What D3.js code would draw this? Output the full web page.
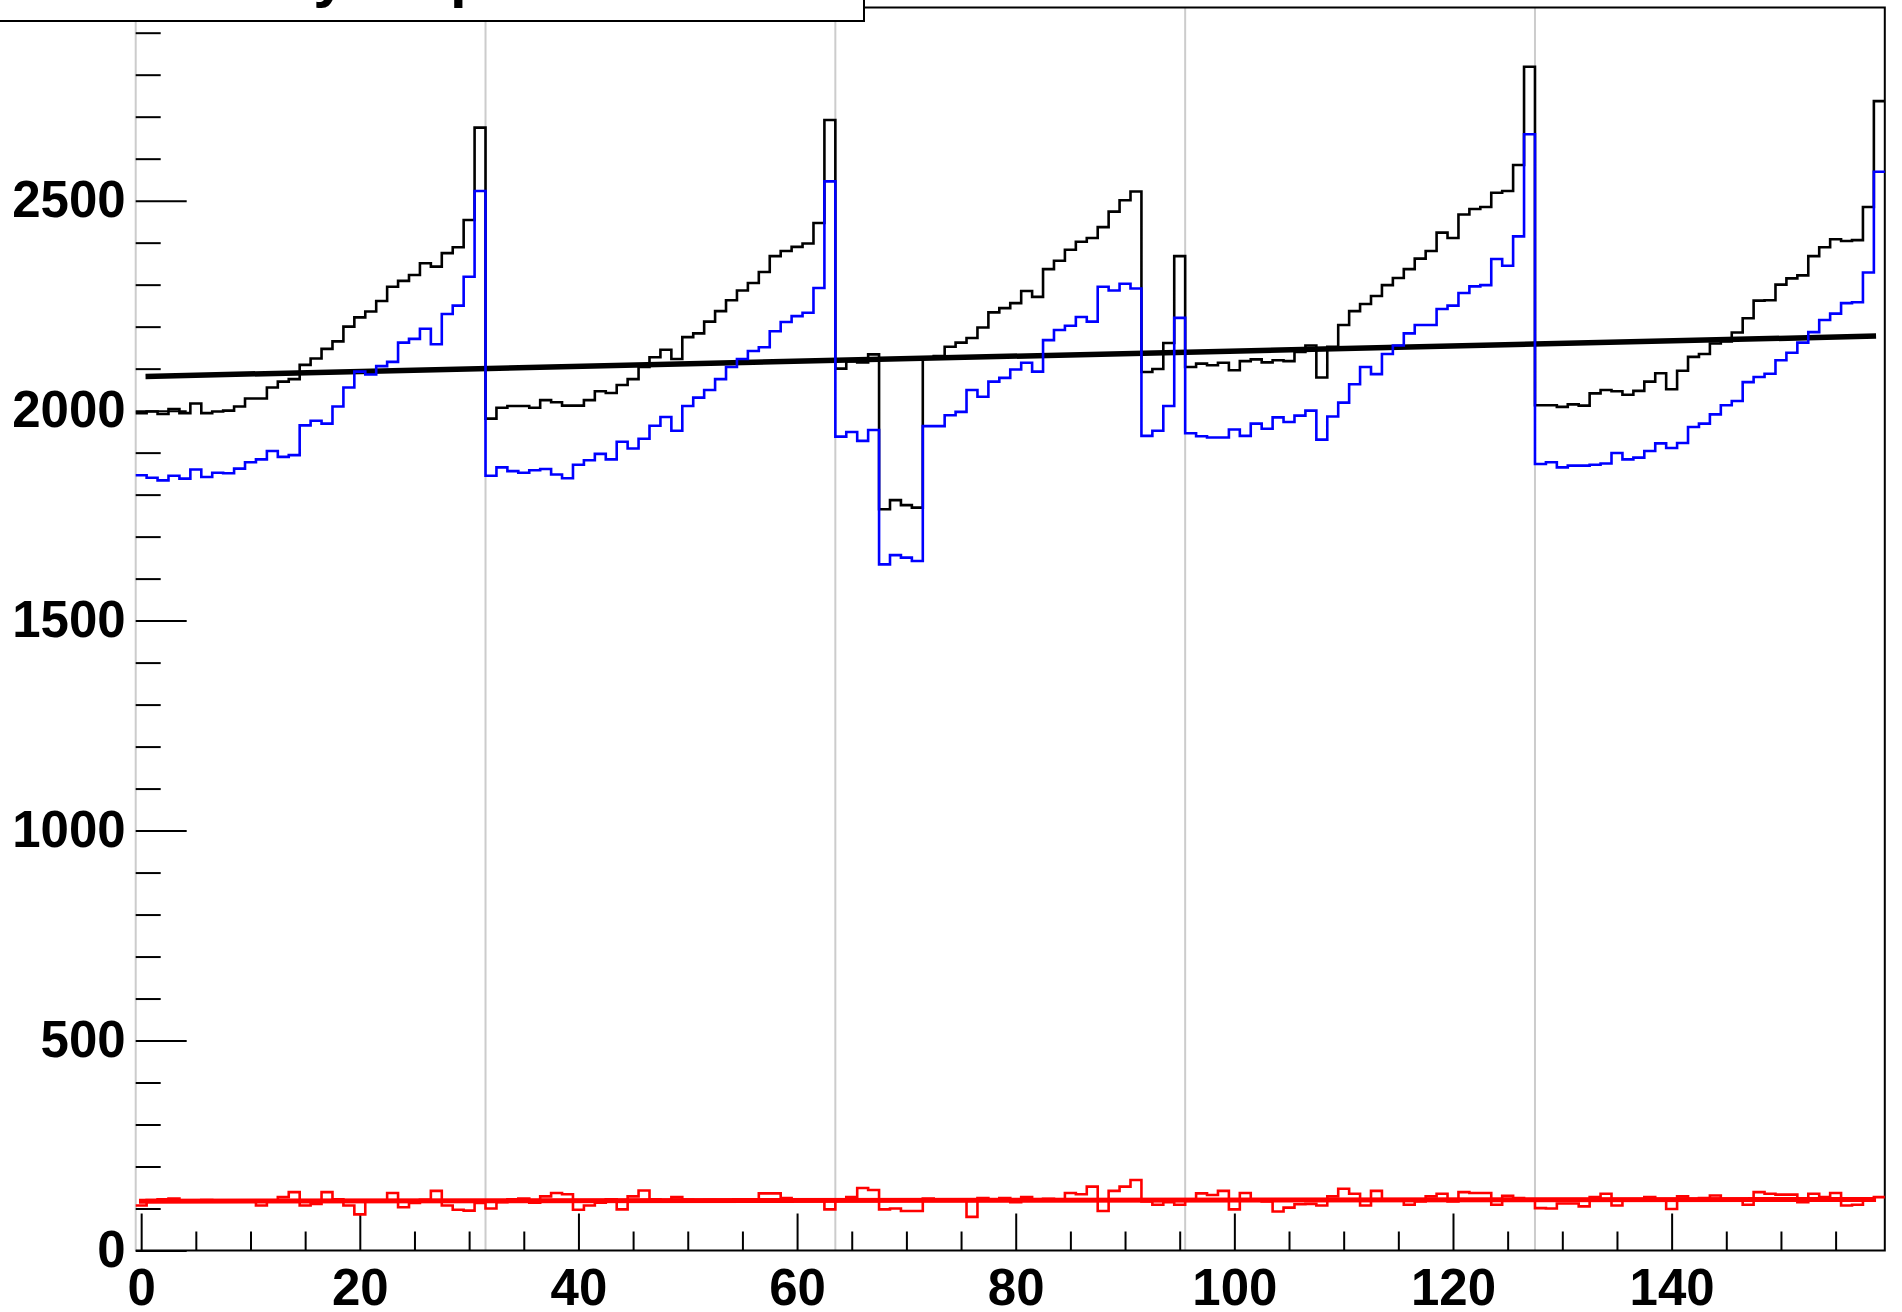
<!DOCTYPE html>
<html>
<head>
<meta charset="utf-8">
<script src="https://cdn.jsdelivr.net/npm/d3@7"></script>
<style>
  html, body { margin: 0; padding: 0; background: #fff; }
  svg { display: block; }
</style>
</head>
<body>
<div id="chart"></div>
<script>
// histogram contents, one value per channel (bins centred on 0..159)
const blackHist = [
  1994, 1998, 1992, 2004, 1994, 2017, 1994, 1998, 2000, 2010,
  2029, 2029, 2055, 2069, 2075, 2109, 2124, 2147, 2165, 2200,
  2222, 2236, 2261, 2295, 2309, 2323, 2351, 2343, 2375, 2389,
  2454, 2674, 1981, 2007, 2011, 2011, 2007, 2025, 2020, 2012,
  2012, 2025, 2046, 2042, 2061, 2075, 2104, 2127, 2145, 2123,
  2175, 2184, 2212, 2237, 2263, 2286, 2304, 2330, 2368, 2380,
  2390, 2398, 2447, 2692, 2100, 2117, 2115, 2134, 1765, 1787,
  1775, 1769, 2125, 2130, 2152, 2162, 2173, 2198, 2234, 2244,
  2256, 2285, 2271, 2337, 2357, 2383, 2402, 2411, 2437, 2474,
  2501, 2522, 2092, 2099, 2161, 2368, 2104, 2112, 2108, 2114,
  2096, 2118, 2122, 2115, 2120, 2118, 2140, 2155, 2079, 2152,
  2204, 2237, 2254, 2273, 2299, 2316, 2337, 2362, 2380, 2424,
  2411, 2467, 2480, 2485, 2519, 2523, 2585, 2819, 2013, 2013,
  2009, 2015, 2012, 2041, 2049, 2046, 2038, 2047, 2069, 2089,
  2051, 2095, 2128, 2135, 2160, 2165, 2186, 2220, 2262, 2263,
  2300, 2315, 2322, 2368, 2389, 2408, 2404, 2406, 2485, 2737
];
const blueHist = [
  1846, 1840, 1834, 1845, 1838, 1860, 1842, 1852, 1851, 1862,
  1877, 1884, 1904, 1890, 1894, 1965, 1976, 1969, 2010, 2055,
  2093, 2086, 2106, 2116, 2162, 2171, 2195, 2158, 2230, 2250,
  2319, 2523, 1845, 1865, 1856, 1852, 1858, 1861, 1848, 1839,
  1871, 1882, 1897, 1884, 1926, 1910, 1933, 1964, 1985, 1952,
  2011, 2031, 2049, 2075, 2104, 2123, 2142, 2151, 2189, 2211,
  2225, 2233, 2292, 2546, 1938, 1949, 1928, 1954, 1634, 1656,
  1650, 1642, 1963, 1963, 1989, 1997, 2049, 2033, 2069, 2078,
  2098, 2114, 2093, 2168, 2192, 2202, 2223, 2212, 2295, 2286,
  2302, 2291, 1940, 1952, 2011, 2221, 1946, 1939, 1936, 1936,
  1955, 1940, 1969, 1957, 1984, 1973, 1988, 2000, 1931, 1986,
  2019, 2063, 2104, 2087, 2135, 2155, 2184, 2204, 2204, 2242,
  2250, 2280, 2296, 2299, 2361, 2345, 2415, 2658, 1873, 1877,
  1865, 1869, 1869, 1871, 1874, 1899, 1884, 1888, 1904, 1922,
  1911, 1923, 1961, 1969, 1991, 2013, 2023, 2068, 2080, 2088,
  2120, 2138, 2162, 2187, 2216, 2231, 2256, 2258, 2329, 2569
];
const redHist = [
  107, 120, 122, 124, 118, 119, 120, 118, 119, 117,
  119, 107, 119, 127, 139, 107, 111, 139, 122, 107,
  86, 117, 119, 137, 103, 113, 121, 142, 107, 97,
  95, 113, 100, 115, 122, 124, 114, 129, 137, 134,
  97, 107, 114, 122, 98, 129, 143, 122, 119, 127,
  121, 119, 120, 118, 119, 120, 119, 136, 136, 125,
  122, 121, 121, 98, 122, 127, 149, 144, 98, 100,
  94, 94, 124, 121, 121, 121, 80, 125, 122, 125,
  115, 127, 119, 123, 122, 137, 134, 152, 94, 142,
  152, 168, 117, 109, 115, 109, 122, 136, 132, 142,
  98, 137, 119, 117, 93, 102, 110, 111, 107, 129,
  147, 135, 107, 142, 119, 119, 109, 117, 129, 135,
  117, 139, 137, 137, 109, 130, 125, 119, 101, 100,
  112, 112, 105, 127, 135, 107, 119, 119, 127, 122,
  99, 129, 122, 125, 131, 122, 122, 109, 139, 135,
  133, 133, 115, 135, 127, 137, 107, 109, 123, 127
];

// straight-line fits: [x, value] end points
const blackFit = [[0.4, 2081.5], [158.7, 2177.5]];
const redFit = [[-0.2, 117.5], [158.7, 121.5]];

// chip boundaries (grey vertical lines)
const boundaries = [-0.5, 31.5, 63.5, 95.5, 127.5];

const xMajor = [0, 20, 40, 60, 80, 100, 120, 140];
const xMinor = d3.range(5, 160, 5).filter(v => v % 20 !== 0);
const yMajor = [0, 500, 1000, 1500, 2000, 2500];
const yMinor = d3.range(100, 3000, 100).filter(v => v % 500 !== 0);

const titleText = 'Intensity map vs channel';

const svgWidth = 1902;
const svgHeight = 1312;
const frame = { left: 135.7, right: 1884.8, top: 7.5, bottom: 1250.5 };
const fontFamily = '"Liberation Sans", Arial, Helvetica, sans-serif';

const svg = d3.select('#chart')
  .append('svg')
  .attr('width', svgWidth)
  .attr('height', svgHeight)
  .style('background', '#fff');

const xScale = d3.scaleLinear()
  .domain([-0.5, 159.5])
  .range([frame.left, frame.right]);

const yScale = d3.scaleLinear()
  .domain([0, 2960])
  .range([frame.bottom, frame.top]);

// grey separators
svg.append('g')
  .selectAll('line')
  .data(boundaries)
  .enter()
  .append('line')
  .attr('x1', d => xScale(d))
  .attr('x2', d => xScale(d))
  .attr('y1', frame.top)
  .attr('y2', frame.bottom)
  .attr('stroke', '#cccccc')
  .attr('stroke-width', 2);

// frame (top, right, bottom)
svg.append('path')
  .attr('d', `M${frame.left},${frame.top}H${frame.right}V${frame.bottom}H${frame.left}`)
  .attr('fill', 'none')
  .attr('stroke', '#000')
  .attr('stroke-width', 2);

// axes
function styleAxis(g) {
  g.select('.domain').remove();
  g.selectAll('.tick line').attr('stroke', '#000').attr('stroke-width', 2);
  g.attr('font-family', fontFamily)
    .attr('font-size', 51)
    .attr('font-weight', 'bold');
  g.selectAll('.tick text').attr('fill', '#000');
}

svg.append('g')
  .attr('transform', `translate(${frame.left},0)`)
  .call(d3.axisLeft(yScale).tickValues(yMinor).tickSize(-25).tickFormat(''))
  .call(styleAxis);

svg.append('g')
  .attr('transform', `translate(${frame.left},0)`)
  .call(d3.axisLeft(yScale).tickValues(yMajor).tickSize(-51).tickPadding(10).tickFormat(d3.format('d')))
  .call(styleAxis);

svg.append('g')
  .attr('transform', `translate(0,${frame.bottom})`)
  .call(d3.axisBottom(xScale).tickValues(xMinor).tickSize(-19).tickFormat(''))
  .call(styleAxis);

svg.append('g')
  .attr('transform', `translate(0,${frame.bottom})`)
  .call(d3.axisBottom(xScale).tickValues(xMajor).tickSize(-37).tickPadding(18).tickFormat(d3.format('d')))
  .call(styleAxis);

// histograms
function stepPoints(values) {
  const pts = values.map((v, i) => [i - 0.5, v]);
  pts.push([values.length - 0.5, values[values.length - 1]]);
  return pts;
}

const stepLine = d3.line()
  .x(d => xScale(d[0]))
  .y(d => yScale(d[1]))
  .curve(d3.curveStepAfter);

const straightLine = d3.line()
  .x(d => xScale(d[0]))
  .y(d => yScale(d[1]));

svg.append('path')
  .datum(stepPoints(blackHist))
  .attr('d', stepLine)
  .attr('fill', 'none')
  .attr('stroke', '#000')
  .attr('stroke-width', 2.6);

svg.append('path')
  .datum(blackFit)
  .attr('d', straightLine)
  .attr('fill', 'none')
  .attr('stroke', '#000')
  .attr('stroke-width', 5.5);

svg.append('path')
  .datum(stepPoints(blueHist))
  .attr('d', stepLine)
  .attr('fill', 'none')
  .attr('stroke', '#0000ff')
  .attr('stroke-width', 2.6);

svg.append('path')
  .datum(stepPoints(redHist))
  .attr('d', stepLine)
  .attr('fill', 'none')
  .attr('stroke', '#ff0000')
  .attr('stroke-width', 2.6);

svg.append('path')
  .datum(redFit)
  .attr('d', straightLine)
  .attr('fill', 'none')
  .attr('stroke', '#ff0000')
  .attr('stroke-width', 5);

// title box (mostly above the page)
const title = svg.append('g');
title.append('rect')
  .attr('x', -10)
  .attr('y', -40)
  .attr('width', 874)
  .attr('height', 61)
  .attr('fill', '#fff')
  .attr('stroke', '#000')
  .attr('stroke-width', 2);
title.append('text')
  .attr('x', 100)
  .attr('y', -4)
  .attr('font-family', fontFamily)
  .attr('font-size', 60)
  .attr('font-weight', 'bold')
  .text(titleText);
</script>
</body>
</html>
